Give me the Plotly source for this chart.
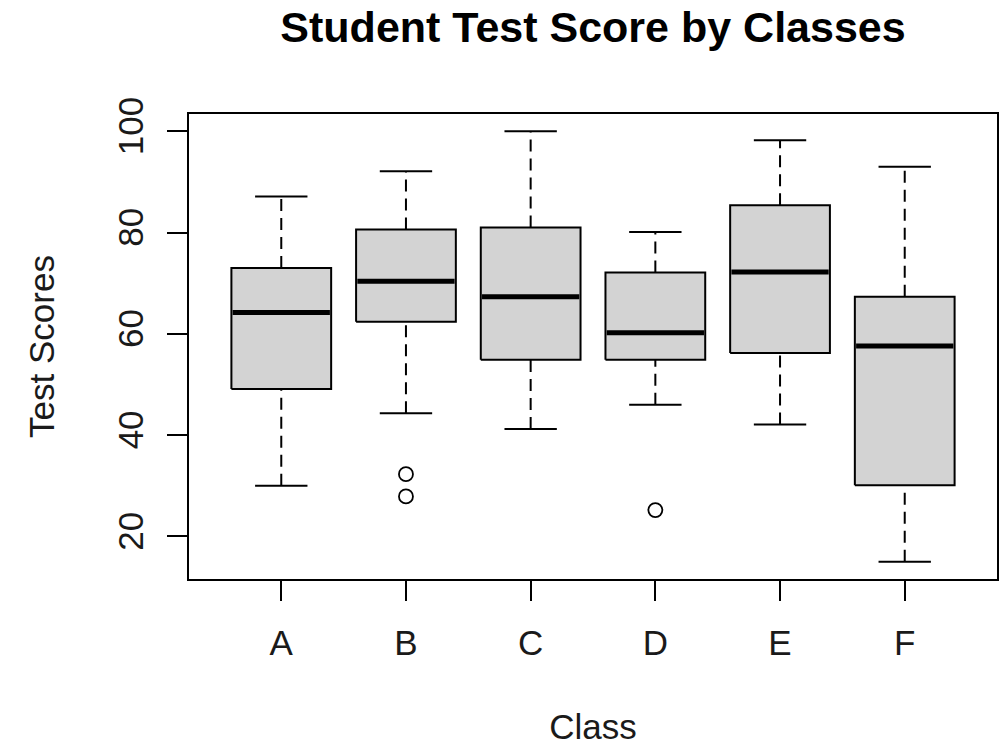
import plotly.graph_objects as go

# ---- data ----
classes = ["A", "B", "C", "D", "E", "F"]
lower_whisker = [30, 44.3, 41.2, 46, 42.1, 15]
q1 = [49.1, 62.4, 54.9, 54.9, 56.2, 30.1]
median = [64.2, 70.4, 67.3, 60.2, 72.2, 57.6]
q3 = [73, 80.6, 81, 72.1, 85.4, 67.3]
upper_whisker = [87.1, 92.1, 100, 80.1, 98.2, 93]
outlier_class = ["B", "B", "D"]
outlier_value = [32.3, 27.9, 25.2]
y_ticks = [20, 40, 60, 80, 100]

BOX_W = 0.8
CAP_W = 0.42
FONT = "Liberation Sans, Arial, sans-serif"

W, H = 1005, 746
pos = {c: i + 1 for i, c in enumerate(classes)}

fig = go.Figure()

# boxes
for c, lo, hi in zip(classes, q1, q3):
    x0 = pos[c] - BOX_W / 2
    x1 = pos[c] + BOX_W / 2
    fig.add_trace(go.Scatter(
        x=[x0, x1, x1, x0, x0], y=[lo, lo, hi, hi, lo],
        mode="lines", fill="toself", fillcolor="#D3D3D3",
        line=dict(color="black", width=2), hoverinfo="skip", showlegend=False))

# whiskers (dashed)
wx, wy = [], []
for c, lw, a, b, uw in zip(classes, lower_whisker, q1, q3, upper_whisker):
    p = pos[c]
    wx += [p, p, None, p, p, None]
    wy += [b, uw, None, lw, a, None]
fig.add_trace(go.Scatter(x=wx, y=wy, mode="lines",
                         line=dict(color="black", width=2, dash="12px,7px"),
                         hoverinfo="skip", showlegend=False))

# caps
cx, cy = [], []
for c, lw, uw in zip(classes, lower_whisker, upper_whisker):
    p = pos[c]
    cx += [p - CAP_W / 2, p + CAP_W / 2, None, p - CAP_W / 2, p + CAP_W / 2, None]
    cy += [uw, uw, None, lw, lw, None]
fig.add_trace(go.Scatter(x=cx, y=cy, mode="lines",
                         line=dict(color="black", width=2),
                         hoverinfo="skip", showlegend=False))

# medians
mx, my = [], []
for c, m in zip(classes, median):
    p = pos[c]
    mx += [p - BOX_W / 2 + 0.01, p + BOX_W / 2 - 0.01, None]
    my += [m, m, None]
fig.add_trace(go.Scatter(x=mx, y=my, mode="lines",
                         line=dict(color="black", width=5),
                         hoverinfo="skip", showlegend=False))

# outliers
fig.add_trace(go.Scatter(
    x=[pos[c] for c in outlier_class], y=outlier_value, mode="markers",
    marker=dict(symbol="circle-open", size=14, color="black", line=dict(width=1.8)),
    hoverinfo="skip", showlegend=False))

fig.update_layout(
    width=W, height=H,
    margin=dict(l=189, r=8, t=114, b=167, autoexpand=False),
    paper_bgcolor="white", plot_bgcolor="white",
    font=dict(family=FONT, size=35, color="#1a1a1a"),
    title=dict(text="<b>Student Test Score by Classes</b>",
               font=dict(family=FONT, size=43, color="black"),
               x=(189 + 997) / 2 / W, xanchor="center",
               y=1 - 27 / H, yanchor="middle", yref="container",
               automargin=False),
    xaxis=dict(range=[0.26, 6.74], tickvals=list(range(1, len(classes) + 1)),
               ticktext=classes, ticks="outside", ticklen=20, tickwidth=2,
               tickcolor="black", showgrid=False, zeroline=False,
               showline=True, linecolor="black", linewidth=2, mirror=True,
               ticklabelstandoff=12, automargin=False,
               title=dict(text="Class", standoff=58,
                          font=dict(family=FONT, size=35, color="#1a1a1a"))),
    yaxis=dict(range=[11.6, 103.4], tickvals=y_ticks, tickangle=-90,
               ticks="outside", ticklen=20, tickwidth=2, tickcolor="black",
               showgrid=False, zeroline=False,
               showline=True, linecolor="black", linewidth=2, mirror=True,
               ticklabelstandoff=10, automargin=False,
               title=dict(text="Test Scores", standoff=46,
                          font=dict(family=FONT, size=35, color="#1a1a1a"))),
)

# the page body's default 8px margin would shift the figure; remove it
fig.write_html("out.html",
               config={"displayModeBar": False},
               post_script="document.body.style.margin='0';document.body.style.overflow='hidden';")
